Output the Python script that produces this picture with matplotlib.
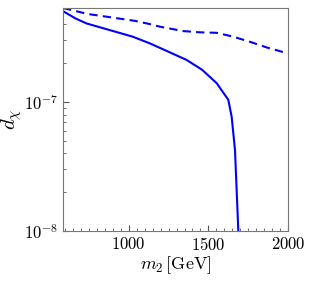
import matplotlib
matplotlib.use("Agg")
import matplotlib.pyplot as plt
from matplotlib.ticker import MultipleLocator, FixedLocator

plt.rcParams['font.family'] = 'serif'
plt.rcParams['font.serif'] = ['cmr10']
plt.rcParams['mathtext.fontset'] = 'cm'
plt.rcParams['axes.formatter.use_mathtext'] = True

# dashed curve
m2_dashed = [587, 744, 817, 1038, 1132, 1195, 1341, 1447, 1552, 1656, 1761, 1866, 2000]
d_dashed = [5.36e-7, 4.81e-7, 4.67e-7, 4.26e-7, 4.02e-7, 3.84e-7, 3.55e-7, 3.47e-7,
            3.44e-7, 3.21e-7, 2.93e-7, 2.65e-7, 2.38e-7]

# solid curve
m2_solid = [587, 665, 734, 881, 1025, 1132, 1195, 1363, 1460, 1552, 1625, 1646, 1667, 1688, 1692]
d_solid = [5.07e-7, 4.45e-7, 4.07e-7, 3.61e-7, 3.21e-7, 2.85e-7, 2.63e-7, 2.12e-7,
           1.78e-7, 1.40e-7, 1.04e-7, 7.70e-8, 4.25e-8, 1.0e-8, 8.5e-9]

fig = plt.figure(figsize=(3.11, 2.82), dpi=100)
ax = fig.add_axes([0.2026, 0.1809, 0.7235, 0.7908])

ax.plot(m2_solid, d_solid, color='#0000ff', lw=1.5)
ax.plot(m2_dashed, d_dashed, color='#0000ff', lw=1.5, ls=(0, (4, 2.5)))

ax.set_yscale('log')
ax.set_xlim(587, 2000)
ax.set_ylim(1e-8, 5.36e-7)

ax.xaxis.set_major_locator(FixedLocator([1000, 1500, 2000]))
ax.xaxis.set_minor_locator(MultipleLocator(50))
ax.tick_params(which='both', direction='in', top=False, right=False, labelsize=12)
ax.tick_params(which='major', length=4, color='#555555')
ax.tick_params(which='minor', length=2, color='#555555')
for s in ax.spines.values():
    s.set_color('#777777')

ax.set_xlabel(r'$m_2\,[\mathrm{GeV}]$', fontsize=13, labelpad=1)
ax.set_ylabel(r'$d_\chi$', fontsize=15, labelpad=0)

fig.savefig('out.png', dpi=100)
